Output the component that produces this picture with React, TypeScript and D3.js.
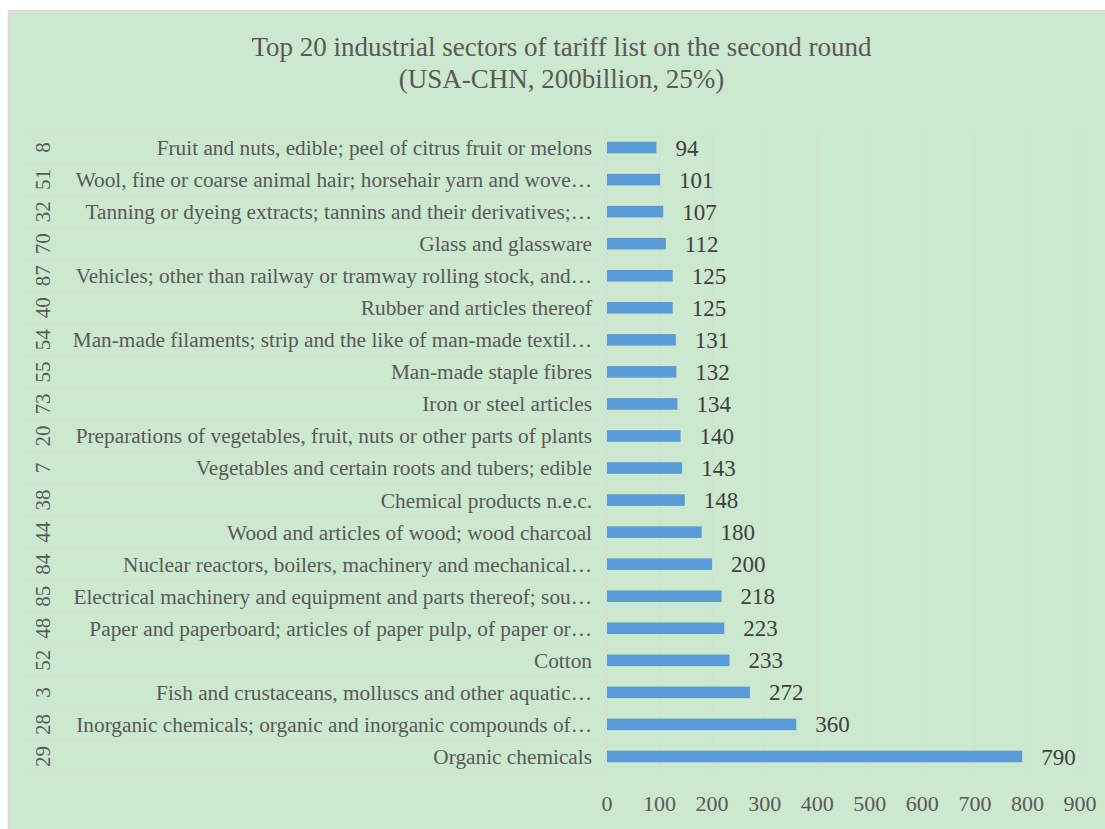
import React from "react";
import * as d3 from "d3";

const codes = ["8","51","32","70","87","40","54","55","73","20","7","38","44","84","85","48","52","3","28","29"];
const categories = [
  "Fruit and nuts, edible; peel of citrus fruit or melons",
  "Wool, fine or coarse animal hair; horsehair yarn and wove…",
  "Tanning or dyeing extracts; tannins and their derivatives;…",
  "Glass and glassware",
  "Vehicles; other than railway or tramway rolling stock, and…",
  "Rubber and articles thereof",
  "Man-made filaments; strip and the like of man-made textil…",
  "Man-made staple fibres",
  "Iron or steel articles",
  "Preparations of vegetables, fruit, nuts or other parts of plants",
  "Vegetables and certain roots and tubers; edible",
  "Chemical products n.e.c.",
  "Wood and articles of wood; wood charcoal",
  "Nuclear reactors, boilers, machinery and mechanical…",
  "Electrical machinery and equipment and parts thereof; sou…",
  "Paper and paperboard; articles of paper pulp, of paper or…",
  "Cotton",
  "Fish and crustaceans, molluscs and other aquatic…",
  "Inorganic chemicals; organic and inorganic compounds of…",
  "Organic chemicals",
];
const values = [94,101,107,112,125,125,131,132,134,140,143,148,180,200,218,223,233,272,360,790];
const ticks = [0,100,200,300,400,500,600,700,800,900];
const titleLines = ["Top 20 industrial sectors of tariff list on the second round", "(USA-CHN, 200billion, 25%)"];

export default function App() {
  const W = 1105, H = 829;
  const left = 607, right = 1080, top = 131.5, bottom = 772.5;
  const x = d3.scaleLinear().domain([0, 900]).range([left, right]);
  const keys = categories.map((_, i) => String(i));
  const y = d3.scaleBand().domain(keys).range([top, bottom]).paddingInner(0.64).paddingOuter(0.32);
  const row = d3.scaleBand().domain(keys).range([top, bottom]);
  const font = "'Liberation Serif', 'Times New Roman', serif";
  const grid = "#d6dcd6";
  return (
    <svg width={W} height={H} style={{ position: "absolute", left: 0, top: 0 }} fontFamily={font}>
      <rect x={8.5} y={10.5} width={W} height={H} fill="#cce8cf" stroke="#d9d9d9" strokeWidth={1.5} />
      {titleLines.map((t, i) => (
        <text key={i} x={561.5} y={56 + i * 32} textAnchor="middle" fontSize={27} fill="#595959">{t}</text>
      ))}
      {ticks.map(t => (
        <line key={t} x1={x(t)} x2={x(t)} y1={130} y2={bottom} stroke={grid} strokeWidth={1} />
      ))}
      {keys.map(k => (
        <line key={k} x1={24} x2={left} y1={row(k)!} y2={row(k)!} stroke={grid} />
      ))}
      <line x1={24} x2={left} y1={bottom} y2={bottom} stroke={grid} />
      <line x1={left - 1} x2={left - 1} y1={top} y2={bottom} stroke={grid} />
      {categories.map((c, i) => {
        const k = keys[i];
        const cy = row(k)! + row.bandwidth() / 2;
        return (
          <g key={k}>
            <text x={592} y={cy} dy="0.35em" textAnchor="end" fontSize={21.3} fill="#595959">{c}</text>
            <text transform={`translate(${42.5},${cy}) rotate(-90)`} textAnchor="middle" dy="0.35em" fontSize={21} fill="#595959">{codes[i]}</text>
            <rect x={x(0)} y={y(k)!} width={x(values[i]) - x(0)} height={y.bandwidth()} fill="#5b9bd5" />
            <text x={x(values[i]) + 19} y={cy} dy="0.35em" fontSize={23} fill="#404040">{values[i]}</text>
          </g>
        );
      })}
      {ticks.map(t => (
        <text key={t} x={x(t)} y={811} textAnchor="middle" fontSize={22} fill="#595959">{t}</text>
      ))}
    </svg>
  );
}
